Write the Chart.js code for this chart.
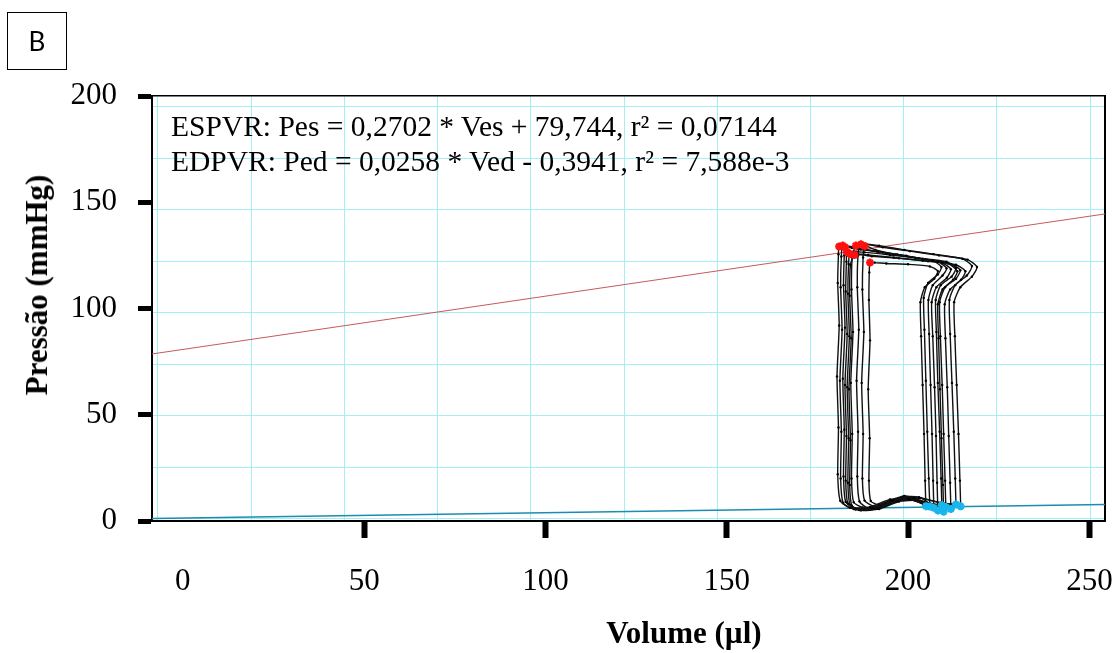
<!DOCTYPE html>
<html>
<head>
<meta charset="utf-8">
<script src="https://cdn.jsdelivr.net/npm/chart.js@4.4.1/dist/chart.umd.min.js"></script>
<style>
  body { margin: 0; background: #fff; }
  #wrap { position: relative; width: 1112px; height: 653px; font-family: 'Liberation Serif', 'Times New Roman', serif; color: #000; }
  #pv { position: absolute; left: 0; top: 0; }
  #panel { position: absolute; left: 7px; top: 12px; width: 58px; height: 56px; border: 1.5px solid #000;
    font-family: Lato, 'Open Sans', sans-serif; font-size: 26px; display: flex; align-items: center; justify-content: center; }
  #eq { position: absolute; left: 171px; top: 109px; font-size: 29.5px; line-height: 35px; white-space: nowrap; }
  #ytitle { position: absolute; left: 37px; top: 285px; transform: translate(-50%, -50%) rotate(-90deg);
    font-weight: bold; font-size: 31px; white-space: nowrap; }
  #xtitle { position: absolute; left: 684px; top: 633px; transform: translate(-50%, -50%);
    font-weight: bold; font-size: 31px; white-space: nowrap; }
</style>
</head>
<body>
<div id="wrap">
  <canvas id="pv" width="1112" height="653"></canvas>
  <div id="panel">B</div>
  <div id="eq">ESPVR: Pes = 0,2702 * Ves + 79,744, r² = 0,07144<br>EDPVR: Ped = 0,0258 * Ved - 0,3941, r² = 7,588e-3</div>
  <div id="ytitle">Pressão (mmHg)</div>
  <div id="xtitle">Volume (µl)</div>
</div>
<script>
// axis ticks
const xTicks = [0, 50, 100, 150, 200, 250];
const yTicks = [0, 50, 100, 150, 200];

// regression lines, as drawn across the plot (volume, pressure)
const espvrV = [-8.5, 254.3];
const espvrP = [78.6, 144.5];
const edpvrV = [-8.5, 254.3];
const edpvrP = [1.2, 7.8];

// PV loops [volume µl, pressure mmHg]
const loop1 = [[206.0,6.8],[205.7,20],[205.3,42],[204.9,66],[204.5,90],[204.3,105],[205.5,112],[208.2,116],[209.2,119.5],[206.8,122.5],[199.5,124.8],[191.5,126.8],[184.5,128.6],[181.0,129.2],[180.8,125.5],[180.6,112],[181.0,92],[180.4,68],[180.8,44],[180.6,22],[181.3,9.5],[184,6.2],[189.5,6.6],[195,10.2],[200,10.4],[204,8.2],[206.0,6.8]];
const loop2 = [[207.1,6.2],[206.9,19],[206.6,41],[206.2,64],[205.8,88],[205.6,104],[206.8,111],[209.5,115.5],[210.6,119],[208.2,122],[201,124.2],[193,126.4],[186,128.4],[182.0,129.6],[181.6,124.5],[181.4,110],[181.8,90],[181.2,66],[181.6,42],[181.4,20],[182.1,8.5],[185,5.6],[190,6.3],[195.5,9.8],[200.5,10.1],[204.8,7.6],[207.1,6.2]];
const loop3 = [[208.2,5.0],[208.0,18],[207.7,40],[207.3,63],[206.8,87],[206.5,103],[207.8,110],[210.7,114.5],[211.8,118.5],[209.4,121.5],[202,123.8],[194,126],[187,127.8],[182.6,128.8],[182.4,125],[182.2,111],[182.6,91],[182.0,67],[182.4,43],[182.2,21],[182.8,9],[185.5,5.4],[190.5,6.0],[196,9.6],[201,10.0],[205.5,7.2],[208.2,5.0]];
const loop4 = [[209.3,7.4],[209.1,20],[208.7,42],[208.2,65],[207.8,89],[207.6,104],[209.0,111],[212,115],[213.2,119],[210.6,122],[203,123.6],[195,125.2],[188,126.4],[183.2,126.6],[183.0,122],[182.8,108],[183.2,88],[182.6,64],[183.0,40],[182.8,19],[183.4,8.2],[186,5.8],[191,6.4],[196.5,10.4],[201.5,10.6],[206,8.4],[209.3,7.4]];
const loop5 = [[210.4,6.6],[210.2,19],[209.8,41],[209.4,64],[208.9,87],[208.7,103],[210.2,110],[213.2,114],[214.4,118],[211.8,121],[204,122.6],[196,124],[189,125.2],[184.0,125.6],[183.6,121],[183.4,107],[183.8,87],[183.2,63],[183.6,39],[183.4,18],[184,7.6],[186.5,5.2],[191.5,5.9],[197,9.4],[202,9.8],[207,7.8],[210.4,6.6]];
const loop6 = [[211.8,5.6],[211.6,18],[211.2,40],[210.8,63],[210.3,86],[210.1,102],[211.6,109],[214.6,113.5],[215.8,117.5],[213.2,120.6],[205.5,122.2],[197.5,123.6],[190,124.6],[185.2,125.2],[184.1,120.5],[183.9,106],[184.3,86],[183.7,62],[184.1,38],[183.9,17],[184.5,7.2],[187,5.0],[192,5.6],[197.5,9.2],[202.5,9.6],[208,6.8],[211.8,5.6]];
const loop7 = [[213.2,7.8],[213.0,20],[212.6,42],[212.1,65],[211.6,88],[211.4,104],[213.0,111],[216.2,115.5],[217.6,120],[215,123.4],[207,125.6],[199,127.6],[192,129.6],[188,130.4],[185.6,129.6],[184.6,124],[184.4,109],[184.8,89],[184.2,65],[184.6,41],[184.4,20],[185,8.8],[187.5,6.4],[192.5,6.9],[198,10.8],[203,10.9],[209,8.6],[213.2,7.8]];
const loop8 = [[214.5,6.9],[214.3,19],[213.9,41],[213.4,64],[212.9,87],[212.7,103],[214.4,110],[217.6,115],[219.0,119.5],[216.4,123],[208.5,125],[200.5,127],[193,128.8],[187.0,130.2],[186.2,125],[186.0,110],[186.4,90],[185.8,66],[186.2,42],[186.0,21],[186.6,9.2],[189,6.0],[193.5,6.8],[198.5,10.6],[203.5,10.8],[210,8.0],[214.5,6.9]];
const loop9 = [[209.8,4.4],[209.6,17],[209.2,39],[208.8,62],[208.4,86],[208.2,102],[209.5,109],[212.4,113.5],[213.6,117.5],[211,121.2],[204,123.4],[197,125.4],[191,127.6],[188.0,129.4],[187.6,124],[187.4,109],[187.8,89],[187.2,65],[187.6,41],[187.4,20],[188,9.6],[190.5,7.0],[194,8.2],[198.5,11.4],[203,11.2],[207,7.0],[209.8,4.4]];
const loop10 = [[204.9,7.0],[204.7,19],[204.4,41],[204.0,64],[203.6,87],[203.4,103],[204.6,110],[207.2,114],[208.2,117.6],[206,119.8],[200,120.8],[194,121.2],[190.8,121.6],[189.5,121.6],[189.3,117],[189.2,104],[189.5,85],[189.0,62],[189.4,39],[189.2,19],[189.7,9.4],[191.8,7.6],[195,9.6],[199,11.8],[202.5,10.2],[204.9,7.0]];

// end-systolic (red) and end-diastolic (blue) points
const esV = [181.0, 182.0, 182.6, 183.2, 184.0, 185.2, 185.6, 187.0, 188.0, 189.5];
const esP = [129.2, 129.6, 128.8, 126.6, 125.6, 125.2, 129.6, 130.2, 129.4, 121.6];
const edV = [206.0, 207.1, 208.2, 209.3, 210.4, 211.8, 213.2, 214.5, 209.8, 204.9];
const edP = [6.8, 6.2, 5.0, 7.4, 6.6, 5.6, 7.8, 6.9, 4.4, 7.0];

const loops = [loop1, loop2, loop3, loop4, loop5, loop6, loop7, loop8, loop9, loop10];

const toXY = (vs, ps) => vs.map((v, i) => ({ x: v, y: ps[i] }));
const serif = "'Liberation Serif', 'Times New Roman', serif";
const gridCyan = '#a2f0f6';

const markerSet = (vs, ps, color) => ({
  data: toXY(vs, ps),
  showLine: false,
  pointStyle: 'star',
  pointRadius: 4,
  borderWidth: 2.4,
  borderColor: color,
  backgroundColor: color,
});

const datasets = [
  markerSet(esV, esP, '#ff1010'),
  markerSet(edV, edP, '#18b6ec'),
  ...loops.map(lp => ({
    data: lp.map(([v, p]) => ({ x: v, y: p })),
    showLine: true,
    borderColor: '#111',
    borderWidth: 1.4,
    tension: 0.2,
    pointRadius: 1.2,
    pointBorderWidth: 0,
    pointBackgroundColor: '#000',
  })),
  {
    data: toXY(espvrV, espvrP),
    showLine: true,
    borderColor: '#c65a5a',
    borderWidth: 1,
    pointRadius: 0,
  },
  {
    data: toXY(edpvrV, edpvrP),
    showLine: true,
    borderColor: '#1a8db0',
    borderWidth: 1.4,
    pointRadius: 0,
  },
];

new Chart(document.getElementById('pv'), {
  type: 'scatter',
  data: { datasets },
  options: {
    responsive: false,
    animation: false,
    devicePixelRatio: 1,
    layout: { padding: { top: 96, right: 7, left: 0, bottom: 0 } },
    plugins: { legend: { display: false }, tooltip: { enabled: false } },
    scales: {
      x: {
        type: 'linear',
        position: 'bottom',
        min: -8.5,
        max: 254.3,
        afterBuildTicks: s => { s.ticks = xTicks.map(v => ({ value: v })); },
        afterFit: s => { s.height = 132; s.paddingLeft = 0; s.paddingRight = 0; },
        ticks: { font: { family: serif, size: 31 }, color: '#000', padding: 25, autoSkip: false, maxRotation: 0 },
        grid: {
          drawOnChartArea: false,
          tickLength: 17,
          tickWidth: 6,
          tickColor: c => (c.tick && c.tick.value === 0 ? 'rgba(0,0,0,0)' : '#000'),
        },
        border: { color: '#000', width: 2 },
      },
      y: {
        type: 'linear',
        position: 'left',
        min: 0,
        max: 200,
        afterBuildTicks: s => { s.ticks = yTicks.map(v => ({ value: v })); },
        afterFit: s => { s.width = 152; s.paddingTop = 0; s.paddingBottom = 0; },
        ticks: { font: { family: serif, size: 31 }, color: '#000', padding: 21 },
        grid: { drawOnChartArea: false, tickLength: 14, tickWidth: 5, tickColor: '#000' },
        border: { color: '#000', width: 2 },
      },
      // light cyan background grid, with its own spacing
      xg: {
        type: 'linear',
        position: 'top',
        min: -0.064,
        max: 10.16,
        afterFit: s => { s.height = 0; },
        ticks: { display: false, stepSize: 1, includeBounds: false, maxTicksLimit: 30 },
        grid: { color: gridCyan, lineWidth: 1, drawTicks: false },
        border: { color: '#000', width: 1.5 },
      },
      yg: {
        type: 'linear',
        position: 'right',
        min: -0.039,
        max: 8.21,
        afterFit: s => { s.width = 0; },
        ticks: { display: false, stepSize: 1, includeBounds: false, maxTicksLimit: 30 },
        grid: { color: gridCyan, lineWidth: 1, drawTicks: false },
        border: { color: '#000', width: 2 },
      },
    },
  },
});
</script>
</body>
</html>
